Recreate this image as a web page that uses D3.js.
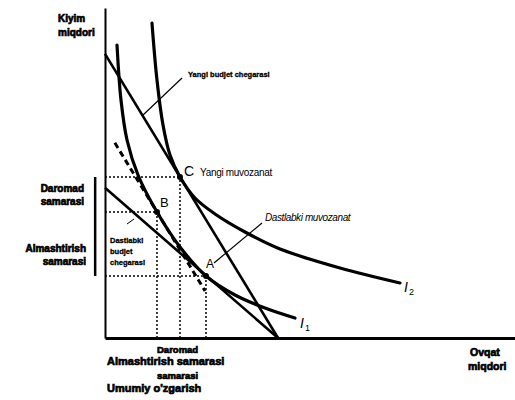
<!DOCTYPE html>
<html><head><meta charset="utf-8">
<script src="https://cdn.jsdelivr.net/npm/d3@7"></script>
<style>
body{margin:0;background:#fff}
svg{display:block}
text{font-family:"Liberation Sans",Arial,sans-serif;fill:#000}
.blob{font-weight:bold;stroke:#000;stroke-width:0.7px}
</style>
</head><body>
<svg id="c" width="515" height="400"></svg>
<script>
// ---- data (quantities, arbitrary units 0..100) ----
const i1X = [2.93, 3.90, 5.37, 8.05, 12.68, 18.29, 24.63, 31.71, 39.02, 46.34];
const i1Y = [88.79, 72.12, 60.0, 49.39, 38.18, 27.58, 18.79, 13.03, 9.09, 6.06];
const i2X = [11.46, 12.68, 14.15, 15.85, 18.29, 21.95, 26.83, 34.15, 42.68, 57.32, 71.95];
const i2Y = [95.45, 78.18, 64.55, 55.45, 48.79, 42.42, 37.58, 32.12, 26.97, 21.21, 16.67];
const newBudgetX = [0, 42.2], newBudgetY = [86.1, 0];
const oldBudgetX = [0, 42.2], oldBudgetY = [45.5, 0];
const compBudgetX = [2.4, 24.4], compBudgetY = [59.15, 14.27];
const pointNames = ["A", "B", "C"];
const pointX = [24.63, 12.68, 18.29];
const pointY = [18.79, 38.18, 48.79];
const curveLabels = ["I", "I"], curveSubs = ["1", "2"];
const yAxisLabel = ["Kiyim", "miqdori"];
const xAxisLabel = ["Ovqat", "miqdori"];
const leftLabels1 = ["Daromad", "samarasi"];
const leftLabels2 = ["Almashtirish", "samarasi"];
const bottomLabels = ["Daromad", "Almashtirish samarasi", "samarasi", "Umumiy o'zgarish"];

const svg = d3.select("#c");
const x = d3.scaleLinear().domain([0, 100]).range([105, 515]);
const y = d3.scaleLinear().domain([0, 100]).range([338, 8]);

const zip = (xs, ys) => xs.map((v, i) => [v, ys[i]]);
const line = d3.line().x(d => x(d[0])).y(d => y(d[1]));
const smooth = d3.line().x(d => x(d[0])).y(d => y(d[1])).curve(d3.curveCatmullRom.alpha(0.5));

// guide (dotted) lines
const guides = svg.append("g").attr("stroke", "#000").attr("stroke-width", 1.5)
  .attr("stroke-dasharray", "2,2").attr("fill", "none");
pointNames.forEach((n, i) => {
  guides.append("path").attr("d", line([[0, pointY[i]], [pointX[i], pointY[i]]]));
  guides.append("path").attr("d", line([[pointX[i], 0], [pointX[i], pointY[i]]]));
});

// axes
const ay = svg.append("g").attr("transform", `translate(${x(0)},0)`)
  .call(d3.axisLeft(y).tickValues([]).tickSizeOuter(0));
ay.select(".domain").attr("stroke", "#000").attr("stroke-width", 2);
const ax = svg.append("g").attr("transform", `translate(0,${y(0)})`)
  .call(d3.axisBottom(x).tickValues([]).tickSizeOuter(0));
ax.select(".domain").attr("stroke", "#000").attr("stroke-width", 3);

// budget lines
svg.append("path").attr("d", line(zip(newBudgetX, newBudgetY)))
  .attr("stroke", "#000").attr("stroke-width", 2.6).attr("fill", "none");
svg.append("path").attr("d", line(zip(oldBudgetX, oldBudgetY)))
  .attr("stroke", "#000").attr("stroke-width", 2.6).attr("fill", "none");
svg.append("path").attr("d", line(zip(compBudgetX, compBudgetY)))
  .attr("stroke", "#000").attr("stroke-width", 3).attr("stroke-dasharray", "6,4").attr("fill", "none");

// indifference curves
[zip(i1X, i1Y), zip(i2X, i2Y)].forEach(pts => {
  svg.append("path").attr("d", smooth(pts))
    .attr("stroke", "#000").attr("stroke-width", 3.2).attr("fill", "none")
    .attr("stroke-linecap", "round");
});

// points
svg.selectAll("circle.pt").data(pointNames).join("circle")
  .attr("class", "pt").attr("cx", (d, i) => x(pointX[i])).attr("cy", (d, i) => y(pointY[i]))
  .attr("r", 3).attr("fill", "#000");

// point labels
svg.append("text").attr("x", 184).attr("y", 176).attr("font-size", 14).text("C");
svg.append("text").attr("x", 200).attr("y", 176).attr("font-size", 10).attr("letter-spacing", -0.3).text("Yangi muvozanat");
svg.append("text").attr("x", 160).attr("y", 207).attr("font-size", 13).text("B");
svg.append("text").attr("x", 206).attr("y", 268).attr("font-size", 12).text("A");

// curve labels
const cl = [[300, 328], [404, 292]];
cl.forEach((p, i) => {
  const t = svg.append("text").attr("x", p[0]).attr("y", p[1]).attr("font-size", 14).attr("font-style", "italic");
  t.append("tspan").text(curveLabels[i]);
  t.append("tspan").attr("font-size", 9).attr("font-style", "normal").attr("dy", 3).attr("dx", 1).text(curveSubs[i]);
});

// annotations
svg.append("text").attr("x", 188).attr("y", 77).attr("font-size", 7.5).attr("class", "blob")
  .style("stroke-width", "0.3px").text("Yangi budjet chegarasi");
svg.append("path").attr("d", "M182,78L142,116").attr("stroke", "#000").attr("stroke-width", 1.2);

svg.append("text").attr("x", 265).attr("y", 221).attr("font-size", 10).attr("font-style", "italic")
  .attr("letter-spacing", -0.4).text("Dastlabki muvozanat");
svg.append("path").attr("d", "M262,223L214,263").attr("stroke", "#000").attr("stroke-width", 1.2);

["Dastlabki", "budjet", "chegarasi"].forEach((s, i) => {
  svg.append("text").attr("x", 110).attr("y", 243 + i * 11).attr("font-size", 7.5)
    .attr("class", "blob").style("stroke-width", "0.3px").text(s);
});
svg.append("path").attr("d", "M127,224L134,219").attr("stroke", "#000").attr("stroke-width", 1);

// axis titles
yAxisLabel.forEach((s, i) => svg.append("text").attr("x", 58).attr("y", 22 + i * 14)
  .attr("font-size", 10).attr("class", "blob").text(s));
xAxisLabel.forEach((s, i) => svg.append("text").attr("x", 470 - i * 2).attr("y", 356 + i * 14)
  .attr("font-size", 10.5).attr("class", "blob").text(s));

// left bracket and labels
const bx = x(-2.4);
svg.append("path").attr("d", `M${bx},${y(pointY[2])}V${y(pointY[0])}`).attr("stroke", "#000").attr("stroke-width", 2.5);
leftLabels1.forEach((s, i) => svg.append("text").attr("x", 84).attr("y", 192 + i * 13)
  .attr("text-anchor", "end").attr("font-size", 10).attr("class", "blob").text(s));
leftLabels2.forEach((s, i) => svg.append("text").attr("x", 86).attr("y", 252 + i * 13)
  .attr("text-anchor", "end").attr("font-size", 10).attr("class", "blob").text(s));

// bottom labels
const bl = [[157, 353], [107, 365], [157, 379], [107, 392]];
bottomLabels.forEach((s, i) => svg.append("text").attr("x", bl[i][0]).attr("y", bl[i][1])
  .attr("font-size", i % 2 ? 11 : 9.5).attr("class", "blob").text(s));
</script>
</body></html>
